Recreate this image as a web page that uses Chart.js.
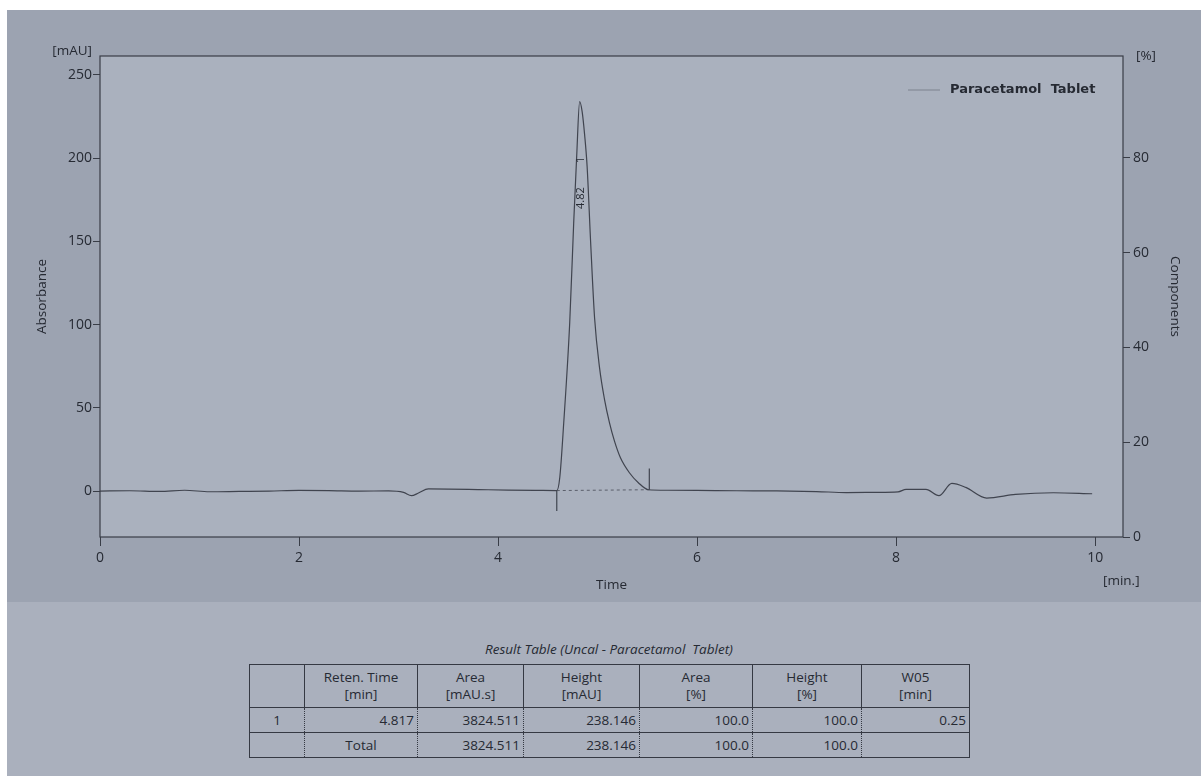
<!DOCTYPE html>
<html>
<head>
<meta charset="utf-8">
<script src="https://cdn.jsdelivr.net/npm/chart.js@4.4.0/dist/chart.umd.min.js"></script>
<style>
  body { margin:0; background:#fff; width:1201px; height:776px; overflow:hidden; font-family:"Open Sans", sans-serif; color:#262a33; }
  #paper { position:absolute; left:7px; top:10px; right:0; bottom:0; background:#9ca3b1; }
  #lower { position:absolute; left:7px; top:602px; right:0; bottom:0; background:#aab0bd; }
  #wrap { position:absolute; left:0; top:0; width:1201px; height:620px; }
  #tableTitle { position:absolute; left:0; width:1218px; top:640px; text-align:center; font-style:italic; font-size:13.5px; }
  #result { position:absolute; left:249px; top:664px; border-collapse:collapse; font-size:13.5px; }
  #result td { border:1.5px solid #353943; padding:0 3px; line-height:17px; }
  #result tr.head td { text-align:center; height:42px; }
  #result tr.row td { text-align:right; height:24px; border-left-style:dotted; border-right-style:dotted; }
  #result tr.row1 td { border-bottom:1.5px dashed #353943; }
  #result tr.row td:first-child { border-left-style:solid; }
  #result tr.row td:last-child { border-right-style:solid; }
</style>
</head>
<body>
<div id="paper"></div>
<div id="lower"></div>
<div id="wrap"><canvas id="chromo" width="1201" height="620"></canvas></div>
<div id="tableTitle">Result Table (Uncal - Paracetamol&nbsp; Tablet)</div>
<table id="result"></table>

<script>
// chromatogram trace
const seriesName = "Paracetamol Tablet";
const timeMin = [0, 0.3, 0.6, 0.85, 1.1, 1.4, 1.7, 2.0, 2.3, 2.6, 2.9, 3.05, 3.13, 3.2, 3.3, 3.5, 3.8, 4.1, 4.4,
  4.59, 4.62, 4.66, 4.72, 4.76, 4.79, 4.82, 4.845, 4.87, 4.895, 4.93, 4.97, 5.02, 5.07, 5.12, 5.17, 5.23, 5.32, 5.41, 5.51,
  5.7, 6.0, 6.4, 6.8, 7.2, 7.5, 7.8, 8.02, 8.1, 8.3, 8.43, 8.56, 8.7, 8.91, 9.2, 9.58, 9.97];
const absorbance = [0, 0.2, -0.2, 0.5, -0.4, -0.2, 0, 0.4, 0.3, 0, 0.1, -0.8, -2.8, -1.2, 1.3, 1.2, 0.9, 0.6, 0.4,
  0.3, 8, 41, 101, 161, 201, 234, 228, 214, 195, 150, 104, 74, 55, 41, 30, 20, 11, 5, 0.8,
  0.5, 0.4, 0.2, 0.1, -0.3, -0.9, -0.8, -0.5, 1.0, 1.0, -2.8, 4.6, 2.2, -4.2, -2.0, -1.0, -1.6];

// peak integration
const peakNo = "1";
const peakTime = 4.82;
const peakText = "4.82";
const baseTime = [4.59, 5.52];
const baseAbs = [0.3, 0.8];
const markEnd = [-12, 13.5];

// axes
const xTicks = [0, 2, 4, 6, 8, 10];
const yTicks = [0, 50, 100, 150, 200, 250];
const pctTicks = [0, 20, 40, 60, 80];

// result table
const tableHead = ["", "Reten. Time<br>[min]", "Area<br>[mAU.s]", "Height<br>[mAU]", "Area<br>[%]", "Height<br>[%]", "W05<br>[min]"];
const row1 = ["1", "4.817", "3824.511", "238.146", "100.0", "100.0", "0.25"];
const rowTotal = ["", "Total", "3824.511", "238.146", "100.0", "100.0", ""];
const colWidths = [55, 113, 106, 116, 113, 109, 108];

const ink = "#262a33";
const plotBg = "#aab1be";
const font = "'Open Sans', sans-serif";

function buildTable(){
  let t = document.getElementById("result");
  let html = '<tr class="head">' + tableHead.map((h, i) => `<td style="width:${colWidths[i] - 7}px">${h}</td>`).join("") + "</tr>";
  html += '<tr class="row row1">' + row1.map((v, i) => `<td style="${i === 0 ? "text-align:center" : ""}">${v}</td>`).join("") + "</tr>";
  html += '<tr class="row">' + rowTotal.map((v, i) => `<td style="${i === 1 ? "text-align:center" : ""}">${v}</td>`).join("") + "</tr>";
  t.innerHTML = html;
}

function fixTicks(list){
  return scale => { scale.ticks = list.map(v => ({ value: v })); };
}

// frame, unit labels, legend and peak labels
const decor = {
  id: "decor",
  beforeDraw(chart){
    let { ctx, chartArea: a } = chart;
    ctx.save();
    ctx.fillStyle = plotBg;
    ctx.fillRect(a.left, a.top, a.right - a.left, a.bottom - a.top);
    ctx.restore();
  },
  afterDraw(chart){
    let { ctx, chartArea: a, scales } = chart;
    ctx.save();
    ctx.strokeStyle = "#393d47";
    ctx.lineWidth = 1.2;
    ctx.strokeRect(a.left, a.top, a.right - a.left, a.bottom - a.top);

    ctx.fillStyle = ink;
    ctx.font = "13.5px " + font;
    ctx.textBaseline = "middle";
    ctx.textAlign = "right";
    ctx.fillText("[mAU]", 92, 51);
    ctx.textAlign = "left";
    ctx.fillText("[%]", 1136, 56);
    ctx.fillText("[min.]", 1103, 581);

    // legend
    let ly = a.top + 34;
    ctx.strokeStyle = "#7d828e";
    ctx.lineWidth = 1;
    ctx.beginPath();
    ctx.moveTo(908, ly);
    ctx.lineTo(940, ly);
    ctx.stroke();
    ctx.font = "bold 13px 'DejaVu Sans', sans-serif";
    ctx.fillText(seriesName.replace(" ", "  "), 950, ly);

    // peak labels
    let px = scales.x.getPixelForValue(peakTime);
    ctx.font = "11px " + font;
    ctx.textAlign = "center";
    [[peakNo, 199], [peakText, 176]].forEach(([txt, v]) => {
      ctx.save();
      ctx.translate(px + 1, scales.y.getPixelForValue(v));
      ctx.rotate(-Math.PI / 2);
      ctx.fillText(txt, 0, 0);
      ctx.restore();
    });
    ctx.restore();
  }
};

let chart = new Chart(document.getElementById("chromo"), {
  type: "line",
  data: {
    datasets: [
      {
        label: seriesName,
        data: timeMin.map((t, i) => ({ x: t, y: absorbance[i] })),
        borderColor: "#40444f",
        borderWidth: 1.2,
        pointRadius: 0,
        cubicInterpolationMode: "monotone"
      },
      {
        label: "baseline",
        data: baseTime.map((t, i) => ({ x: t, y: baseAbs[i] })),
        borderColor: "#5b5f6b",
        borderWidth: 1,
        borderDash: [3, 3],
        pointRadius: 0
      },
      {
        label: "start",
        data: [{ x: baseTime[0], y: baseAbs[0] }, { x: baseTime[0], y: markEnd[0] }],
        borderColor: "#40444f",
        borderWidth: 1.2,
        pointRadius: 0
      },
      {
        label: "end",
        data: [{ x: baseTime[1], y: baseAbs[1] }, { x: baseTime[1], y: markEnd[1] }],
        borderColor: "#40444f",
        borderWidth: 1.2,
        pointRadius: 0
      }
    ]
  },
  options: {
    responsive: false,
    animation: false,
    layout: { padding: { top: 56, left: 0, right: 0, bottom: 0 } },
    plugins: { legend: { display: false }, tooltip: { enabled: false } },
    scales: {
      x: {
        type: "linear",
        min: 0,
        max: 10.28,
        afterBuildTicks: fixTicks(xTicks),
        afterFit: s => { s.height = 83; },
        grid: { drawOnChartArea: false, tickLength: 9, tickColor: "#393d47" },
        border: { display: false },
        ticks: { color: ink, font: { family: font, size: 14 }, padding: 4, maxRotation: 0 },
        title: { display: true, text: "Time", color: ink, font: { family: font, size: 13.5 }, padding: { top: 0, bottom: 27 } }
      },
      y: {
        position: "left",
        min: -27.6,
        max: 261.4,
        afterBuildTicks: fixTicks(yTicks),
        afterFit: s => { s.width = 100; },
        grid: { drawOnChartArea: false, tickLength: 7, tickColor: "#393d47" },
        border: { display: false },
        ticks: { color: ink, font: { family: font, size: 14 }, padding: 1 },
        title: { display: true, text: "Absorbance", color: ink, font: { family: font, size: 13.5 }, padding: { top: 34, bottom: 0 } }
      },
      y1: {
        position: "right",
        min: 0,
        max: 101.5,
        afterBuildTicks: fixTicks(pctTicks),
        afterFit: s => { s.width = 78; },
        grid: { drawOnChartArea: false, tickLength: 7, tickColor: "#393d47" },
        border: { display: false },
        ticks: { color: ink, font: { family: font, size: 14 }, padding: 3 },
        title: { display: true, text: "Components", color: ink, font: { family: font, size: 13.5 }, padding: { top: 18, bottom: 0 } }
      }
    }
  },
  plugins: [decor]
});

buildTable();
</script>
</body>
</html>
